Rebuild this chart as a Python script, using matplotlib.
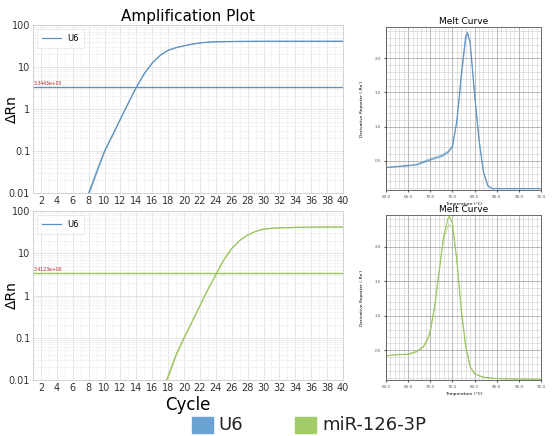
import numpy as np
import matplotlib
matplotlib.use("Agg")
import matplotlib.pyplot as plt
from matplotlib.patches import Rectangle

# amplification data (cycle, delta Rn)
u6_cycles = [8, 9, 10, 11, 12, 13, 14, 15, 16, 17, 18, 19, 20, 21, 22, 23, 24, 26, 28, 30, 34, 40]
u6_rn_a = [0.01, 0.032, 0.1, 0.24, 0.58, 1.4, 3.3, 7.0, 12.5, 19, 25, 29, 32, 35, 37.5, 39, 40, 40.5, 40.8, 41, 41, 41]
u6_rn_b = [0.0085, 0.029, 0.095, 0.23, 0.57, 1.38, 3.25, 6.9, 12.4, 19, 25, 29, 32, 35, 37.5, 39, 40, 40.5, 40.8, 41, 41, 41]
mir_cycles = [17.8, 19, 20, 21, 22, 23, 24, 25, 26, 27, 28, 29, 30, 31, 32, 34, 36, 40]
mir_rn_a = [0.01, 0.04, 0.1, 0.24, 0.58, 1.4, 3.1, 7.0, 13, 20, 27, 33, 37, 39, 40, 41, 41.5, 42]
mir_rn_b = [0.0085, 0.037, 0.095, 0.23, 0.56, 1.37, 3.05, 6.9, 12.8, 20, 27, 33, 37, 39, 40, 41, 41.5, 42]
u6_threshold = 3.34
mir_threshold = 3.41
cycle_ticks = list(range(2, 41, 2))
rn_ticks = [0.01, 0.1, 1, 10, 100]
rn_labels = ["0.01", "0.1", "1", "10", "100"]

# melt curve data (temperature, derivative reporter)
u6_temp = [60, 65, 67, 70, 72.5, 74, 75, 76, 77, 78, 78.4, 79, 80, 81, 82, 83, 84, 85, 90, 95]
u6_deriv_a = [0.40, 0.43, 0.44, 0.51, 0.56, 0.62, 0.70, 1.09, 1.76, 2.33, 2.38, 2.23, 1.47, 0.80, 0.33, 0.13, 0.09, 0.09, 0.09, 0.09]
u6_deriv_b = [0.40, 0.42, 0.45, 0.53, 0.58, 0.64, 0.72, 1.05, 1.70, 2.28, 2.35, 2.24, 1.50, 0.83, 0.35, 0.14, 0.09, 0.09, 0.09, 0.09]
mir_temp = [60, 62.5, 65, 67, 68.5, 69.5, 70, 71, 72, 73, 74, 74.3, 75, 76, 77, 78, 79, 80, 82, 85, 95]
mir_deriv_a = [0.42, 0.44, 0.44, 0.48, 0.55, 0.67, 0.77, 1.13, 1.64, 2.15, 2.41, 2.44, 2.34, 1.81, 1.08, 0.55, 0.26, 0.16, 0.11, 0.09, 0.08]
mir_deriv_b = [0.42, 0.43, 0.45, 0.49, 0.57, 0.69, 0.80, 1.16, 1.66, 2.10, 2.30, 2.32, 2.28, 1.80, 1.10, 0.57, 0.27, 0.16, 0.11, 0.09, 0.08]
temp_ticks = [60, 65, 70, 75, 80, 85, 90, 95]
deriv_ticks = [0.5, 1.0, 1.5, 2.0]

blue = "#5b93c4"
green = "#9cc55e"

fig = plt.figure(figsize=(5.53, 4.36), dpi=100)


def amp_panel(rect, cycles, rn_a, rn_b, color, thr, thr_color, thr_text, show_xlabel):
  ax = fig.add_axes(rect)
  ax.set_yscale("log")
  ax.set_xlim(1, 40)
  ax.set_ylim(0.01, 100)
  ax.set_xticks(cycle_ticks)
  ax.set_xticks(range(1, 41), minor=True)
  ax.set_yticks(rn_ticks)
  ax.set_yticklabels(rn_labels)
  ax.tick_params(labelsize=7, length=0, pad=2, colors="#333333")
  ax.tick_params(which="minor", length=0)
  ax.grid(True, which="major", color="#e2e2e2", lw=0.6)
  ax.grid(True, which="minor", color="#efefef", lw=0.5)
  for s in ax.spines.values():
    s.set_color("#cccccc")
    s.set_linewidth(0.6)
  ax.plot(cycles, rn_a, color=color, lw=0.9, label="U6")
  ax.plot(cycles, rn_b, color=color, lw=0.7, alpha=0.7)
  ax.axhline(thr, color=thr_color, lw=1.0)
  ax.text(1.05, thr * 1.08, thr_text, color="#b22222", fontsize=3.3, va="bottom")
  ax.set_ylabel("ΔRn", fontsize=10)
  ax.yaxis.set_label_coords(-0.045, 0.5)
  leg = ax.legend(loc="upper left", fontsize=6, frameon=True, handlelength=2.2,
                  borderpad=0.6, fancybox=False)
  leg.get_lines()[0].set_color(blue)
  leg.get_frame().set_edgecolor("#dddddd")
  leg.get_frame().set_linewidth(0.5)
  if show_xlabel:
    ax.set_xlabel("Cycle", fontsize=12, labelpad=2)
  return ax


def melt_panel(rect, temp, da, db, color):
  ax = fig.add_axes(rect)
  ax.set_xlim(60, 95)
  ax.set_ylim(0.07, 2.46)
  ax.set_xticks(temp_ticks)
  ax.set_xticklabels(["%.1f" % t for t in temp_ticks])
  ax.set_xticks(np.arange(60, 95.1, 1), minor=True)
  ax.set_yticks(deriv_ticks)
  ax.set_yticklabels(["%.1f" % d for d in deriv_ticks])
  ax.set_yticks(np.arange(0.1, 2.46, 0.1), minor=True)
  ax.tick_params(labelsize=3, length=1.5, pad=2, colors="#555555")
  ax.tick_params(which="minor", length=0)
  ax.grid(True, which="major", color="#9a9a9a", lw=0.5)
  ax.grid(True, which="minor", color="#cccccc", lw=0.4)
  for s in ax.spines.values():
    s.set_color("#555555")
    s.set_linewidth(0.6)
  ax.plot(temp, da, color=color, lw=0.8)
  ax.plot(temp, db, color=color, lw=0.6, alpha=0.7)
  ax.set_title("Melt Curve", fontsize=6.5, pad=2)
  ax.set_xlabel("Temperature (°C)", fontsize=3.2, labelpad=2)
  ax.set_ylabel("Derivative Reporter (-Rn')", fontsize=3.2)
  ax.yaxis.set_label_coords(-0.14, 0.5)
  return ax


ax1 = amp_panel([0.0597, 0.5573, 0.5606, 0.3853], u6_cycles, u6_rn_a, u6_rn_b,
                blue, u6_threshold, blue, "3.3443e+00", False)
ax1.set_title("Amplification Plot", fontsize=11, pad=3)
ax2 = amp_panel([0.0597, 0.1284, 0.5606, 0.3876], mir_cycles, mir_rn_a, mir_rn_b,
                green, mir_threshold, green, "3.4123e+00", True)

melt_panel([0.698, 0.5642, 0.2803, 0.3739], u6_temp, u6_deriv_a, u6_deriv_b, blue)
melt_panel([0.698, 0.1284, 0.2803, 0.3784], mir_temp, mir_deriv_a, mir_deriv_b, green)

# bottom legend with coloured squares
fig.patches.append(Rectangle((192 / 553, 1 - 433 / 436), 21 / 553, 16 / 436,
                             transform=fig.transFigure, color="#6aa3d3", figure=fig))
fig.text(218 / 553, 1 - 425 / 436, "U6", fontsize=13, va="center", color="#222222")
fig.patches.append(Rectangle((295 / 553, 1 - 433 / 436), 21 / 553, 16 / 436,
                             transform=fig.transFigure, color="#a3cc68", figure=fig))
fig.text(322 / 553, 1 - 425 / 436, "miR-126-3P", fontsize=13, va="center", color="#222222")

fig.savefig("out.png", dpi=100)
